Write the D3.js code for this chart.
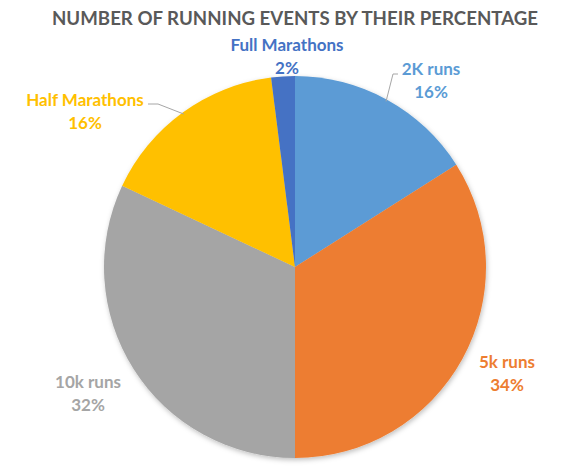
<!DOCTYPE html>
<html><head><meta charset="utf-8">
<script src="https://cdn.jsdelivr.net/npm/d3@7"></script>
<style>body{margin:0;background:#fff}svg{display:block}</style>
</head><body>
<script>
const categories = ["2K runs", "5k runs", "10k runs", "Half Marathons", "Full Marathons"];
const values = [16, 34, 32, 16, 2];
const colors = ["#5B9BD5", "#ED7D31", "#A5A5A5", "#FFC000", "#4472C4"];
const title = "NUMBER OF RUNNING EVENTS BY THEIR PERCENTAGE";

const W = 582, H = 473, cx = 295, cy = 267, R = 191;
// label layout (centre x, baseline of first line), leader line elbow
const labelPos = [
  {x: 431, y: 75, leader: [[398, 74], [393, 74]]},
  {x: 507, y: 368},
  {x: 88, y: 388},
  {x: 85, y: 106, leader: [[148, 104], [158, 104]]},
  {x: 287, y: 51}
];

const svg = d3.select("body").append("svg").attr("width", W).attr("height", H);
const defs = svg.append("defs");
const f = defs.append("filter").attr("id", "sh").attr("x", "-10%").attr("y", "-10%").attr("width", "120%").attr("height", "120%");
f.append("feDropShadow").attr("dx", 1).attr("dy", 2).attr("stdDeviation", 2.5).attr("flood-color", "#000").attr("flood-opacity", 0.25);

svg.append("text").attr("x", 295).attr("y", 25).attr("text-anchor", "middle")
  .attr("font-family", "Lato, sans-serif").attr("font-weight", "bold").attr("font-size", 19)
  .attr("fill", "#595959").attr("textLength", 486).attr("lengthAdjust", "spacingAndGlyphs").text(title);

const data = categories.map((c, i) => ({name: c, value: values[i], color: colors[i], lp: labelPos[i]}));
const pie = d3.pie().value(d => d.value).sort(null);
const arc = d3.arc().innerRadius(0).outerRadius(R);
const arcs = pie(data);

const g = svg.append("g").attr("transform", `translate(${cx},${cy})`).attr("filter", "url(#sh)");
g.selectAll("path").data(arcs).join("path").attr("d", arc).attr("fill", d => d.data.color);

// leader lines
arcs.forEach(a => {
  const lp = a.data.lp;
  if (!lp.leader) return;
  const mid = (a.startAngle + a.endAngle) / 2;
  const ex = cx + (R - 2) * Math.sin(mid), ey = cy - (R - 2) * Math.cos(mid);
  const pts = lp.leader.concat([[ex, ey]]);
  svg.append("path").attr("d", d3.line()(pts)).attr("fill", "none").attr("stroke", "#A6A6A6").attr("stroke-width", 1);
});

const lbl = svg.selectAll("g.lbl").data(arcs).join("g").attr("class", "lbl");
lbl.append("text").attr("x", d => d.data.lp.x).attr("y", d => d.data.lp.y)
  .attr("text-anchor", "middle").attr("font-family", "Lato, sans-serif").attr("font-weight", "bold").attr("font-size", 17)
  .attr("fill", d => d.data.color).text(d => d.data.name);
lbl.append("text").attr("x", d => d.data.lp.x).attr("y", d => d.data.lp.y + 23)
  .attr("text-anchor", "middle").attr("font-family", "Lato, sans-serif").attr("font-weight", "bold").attr("font-size", 17)
  .attr("fill", d => d.data.color).text(d => d.data.value + "%");
</script>
</body></html>
